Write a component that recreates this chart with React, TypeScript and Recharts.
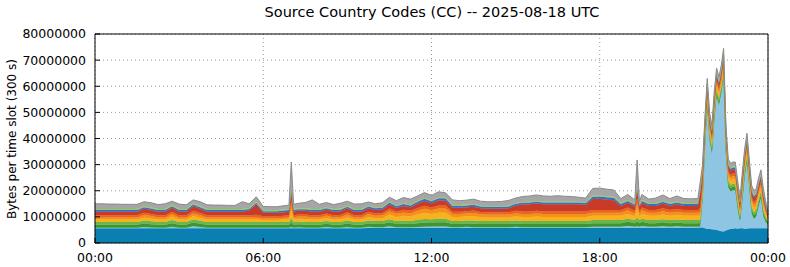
import React from 'react';
import { AreaChart, Area, XAxis, YAxis, CartesianGrid } from 'recharts';

const FONT = '"DejaVu Sans", Verdana, sans-serif';

// time of each slot in minutes after 00:00 UTC
const MINUTES = [
  0, 15, 30, 45, 60, 75, 90, 105, 120, 135, 150, 165,
  180, 195, 210, 225, 240, 255, 270, 285, 300, 315, 330, 345,
  360, 375, 390, 405, 415, 420, 425, 435, 450, 465, 480, 495,
  510, 525, 540, 555, 570, 585, 600, 615, 630, 645, 660, 675,
  690, 705, 720, 735, 750, 765, 780, 795, 810, 825, 840, 855,
  870, 885, 900, 915, 930, 945, 960, 975, 990, 1005, 1020, 1035,
  1050, 1065, 1080, 1095, 1110, 1125, 1140, 1155, 1160, 1165, 1170, 1185,
  1200, 1215, 1230, 1245, 1260, 1275, 1290, 1295, 1300, 1305, 1310, 1315,
  1320, 1325, 1330, 1335, 1340, 1345, 1350, 1355, 1360, 1365, 1370, 1375,
  1380, 1385, 1390, 1395, 1400, 1405, 1410, 1415, 1420, 1425, 1430, 1435,
  1440,
];

// values in millions of bytes per slot, bottom layer first
const CC_1 = [
  5.6, 5.6, 5.6, 5.6, 5.6, 5.6, 5.6, 5.6, 5.6, 5.6, 5.6, 5.6,
  5.6, 5.6, 5.6, 5.6, 5.6, 5.6, 5.6, 5.6, 5.6, 5.6, 5.6, 5.6,
  5.6, 5.6, 5.6, 5.6, 5.6, 5.6, 5.6, 5.6, 5.6, 5.6, 5.6, 5.6,
  5.6, 5.6, 5.6, 5.6, 5.6, 5.7, 5.7, 5.7, 5.7, 5.7, 5.7, 5.7,
  5.7, 5.7, 5.7, 5.7, 5.7, 5.7, 5.7, 5.7, 5.7, 5.7, 5.7, 5.7,
  5.7, 5.7, 5.7, 5.7, 5.7, 5.7, 5.7, 5.7, 5.7, 5.7, 5.7, 5.7,
  5.7, 5.8, 5.8, 5.8, 5.8, 5.8, 5.8, 5.8, 5.8, 5.8, 5.8, 5.8,
  5.8, 5.8, 5.8, 5.8, 5.8, 5.8, 5.8, 5.9, 5.9, 5.6, 5.4, 5.4,
  5.3, 5.2, 5.0, 4.8, 4.5, 4.4, 4.8, 5.2, 5.4, 5.5, 5.6, 5.5,
  5.6, 5.6, 5.5, 5.5, 5.6, 5.6, 5.6, 5.6, 5.6, 5.6, 5.6, 5.6,
  5.6,
];
const CC_2 = [
  0.2, 0.2, 0.2, 0.2, 0.2, 0.2, 0.2, 0.5, 0.3, 0.2, 0.2, 0.6,
  0.2, 0.2, 0.8, 0.5, 0.2, 0.2, 0.2, 0.2, 0.2, 0.2, 0.2, 0.2,
  0.2, 0.2, 0.2, 0.2, 0.2, 0.5, 0.2, 0.4, 0.2, 0.2, 0.2, 0.5,
  0.2, 0.2, 0.5, 0.2, 0.2, 0.5, 0.3, 0.3, 0.7, 0.3, 0.3, 0.3,
  0.4, 0.5, 0.6, 0.6, 0.6, 0.3, 0.3, 0.5, 0.3, 0.3, 0.3, 0.3,
  0.3, 0.3, 0.5, 0.3, 0.3, 0.3, 0.3, 0.3, 0.3, 0.3, 0.3, 0.3,
  0.3, 0.4, 0.4, 0.4, 0.4, 0.4, 0.7, 0.4, 0.6, 0.4, 0.7, 0.4,
  0.4, 0.6, 0.4, 0.6, 0.4, 0.4, 0.4, 0.4, 10.8, 31.6, 46.8, 33.8,
  28.9, 42.0, 51.2, 47.9, 52.7, 59.3, 29.4, 16.0, 14.3, 14.7, 14.6, 7.7,
  2.4, 10.6, 19.7, 25.7, 15.6, 5.6, 3.6, 4.6, 8.6, 11.6, 4.6, 2.4,
  1.4,
];
const CC_3 = [
  1.2, 1.2, 1.2, 1.2, 1.2, 1.2, 1.2, 1.4, 1.3, 1.2, 1.2, 1.4,
  1.2, 1.2, 1.4, 1.3, 1.2, 1.2, 1.2, 1.2, 1.2, 1.2, 1.2, 1.2,
  1.2, 1.2, 1.2, 1.2, 1.2, 1.8, 1.2, 1.2, 1.2, 1.2, 1.2, 1.3,
  1.2, 1.2, 1.4, 1.2, 1.2, 1.3, 1.3, 1.3, 1.5, 1.3, 1.4, 1.3,
  1.5, 1.6, 1.5, 1.6, 1.6, 1.3, 1.3, 1.3, 1.4, 1.3, 1.3, 1.3,
  1.3, 1.3, 1.3, 1.3, 1.3, 1.3, 1.3, 1.3, 1.3, 1.3, 1.3, 1.3,
  1.3, 1.4, 1.4, 1.4, 1.4, 1.4, 1.6, 1.4, 1.8, 1.4, 1.6, 1.4,
  1.4, 1.5, 1.4, 1.4, 1.4, 1.4, 1.4, 1.4, 1.4, 1.4, 1.4, 1.4,
  1.4, 1.4, 1.4, 1.4, 1.4, 1.4, 1.4, 1.4, 1.4, 1.4, 1.4, 1.4,
  1.2, 1.4, 1.4, 1.4, 1.4, 1.4, 1.4, 1.4, 1.4, 1.4, 1.4, 1.1,
  0.8,
];
const CC_4 = [
  1.0, 1.0, 1.0, 1.0, 1.0, 1.0, 1.0, 1.1, 1.1, 1.0, 1.0, 1.2,
  1.0, 1.0, 1.2, 1.1, 1.0, 1.0, 1.0, 1.0, 1.0, 1.0, 1.0, 1.0,
  1.0, 1.0, 1.0, 1.0, 1.0, 1.7, 1.0, 1.0, 1.0, 1.0, 1.0, 1.0,
  1.0, 1.0, 1.1, 1.0, 1.0, 1.1, 1.1, 1.1, 1.2, 1.1, 1.2, 1.1,
  1.3, 1.4, 1.3, 1.4, 1.4, 1.1, 1.1, 1.1, 1.2, 1.1, 1.1, 1.1,
  1.1, 1.1, 1.1, 1.1, 1.1, 1.1, 1.1, 1.1, 1.1, 1.1, 1.1, 1.1,
  1.1, 1.2, 1.2, 1.2, 1.2, 1.2, 1.2, 1.2, 1.6, 1.2, 1.2, 1.2,
  1.2, 1.2, 1.2, 1.2, 1.2, 1.2, 1.2, 1.2, 1.2, 1.2, 1.2, 1.2,
  1.2, 1.2, 1.2, 1.2, 1.2, 1.2, 1.2, 1.2, 1.2, 1.2, 1.2, 1.2,
  1.0, 1.2, 1.2, 1.2, 1.2, 1.2, 1.2, 1.2, 1.2, 1.2, 1.2, 0.9,
  0.6,
];
const CC_5 = [
  1.0, 1.0, 1.0, 1.0, 1.0, 1.0, 1.0, 1.2, 1.1, 1.0, 1.0, 1.3,
  1.0, 1.0, 1.3, 1.2, 1.0, 1.0, 1.0, 1.0, 1.0, 1.0, 1.0, 1.0,
  0.8, 0.8, 0.8, 1.0, 1.0, 3.0, 1.0, 1.1, 1.2, 1.0, 1.0, 1.2,
  1.0, 1.1, 1.3, 1.0, 1.0, 1.4, 1.1, 1.2, 1.8, 1.6, 1.8, 1.7,
  2.0, 2.3, 2.0, 2.3, 2.3, 1.6, 1.6, 1.6, 1.7, 1.5, 1.4, 1.4,
  1.4, 1.4, 1.6, 1.6, 1.6, 1.7, 1.6, 1.6, 1.6, 1.6, 1.6, 1.6,
  1.6, 1.6, 1.6, 1.6, 1.6, 1.6, 1.8, 1.4, 3.2, 1.4, 1.8, 1.6,
  1.6, 1.8, 1.6, 1.8, 1.6, 1.6, 1.6, 1.6, 1.6, 1.6, 1.6, 1.6,
  1.6, 1.6, 1.6, 1.6, 1.6, 1.6, 1.6, 1.6, 1.6, 1.6, 1.6, 1.6,
  1.3, 1.6, 1.6, 1.6, 1.6, 1.6, 1.6, 1.6, 1.6, 1.6, 1.6, 1.1,
  0.7,
];
const CC_6 = [
  0.8, 0.8, 0.8, 0.8, 0.8, 0.8, 0.8, 0.9, 0.9, 0.8, 0.8, 1.0,
  0.8, 0.8, 1.0, 0.9, 0.8, 0.8, 0.8, 0.8, 0.8, 0.8, 0.8, 0.8,
  0.7, 0.7, 0.7, 0.7, 0.8, 2.2, 0.8, 0.8, 0.9, 0.8, 0.8, 0.9,
  0.8, 0.8, 1.0, 0.8, 0.8, 1.1, 0.9, 1.0, 1.3, 1.2, 1.3, 1.2,
  1.4, 1.6, 1.4, 1.6, 1.6, 1.1, 1.1, 1.1, 1.2, 1.1, 1.1, 1.1,
  1.1, 1.1, 1.1, 1.1, 1.1, 1.2, 1.1, 1.1, 1.1, 1.1, 1.1, 1.1,
  1.1, 1.2, 1.2, 1.2, 1.2, 1.2, 1.4, 1.1, 2.4, 1.1, 1.4, 1.2,
  1.2, 1.3, 1.2, 1.2, 1.2, 1.2, 1.2, 1.4, 1.2, 1.2, 1.2, 1.2,
  1.2, 1.2, 1.2, 1.2, 1.2, 1.2, 1.2, 1.2, 1.2, 1.2, 1.2, 1.2,
  1.0, 1.2, 1.2, 1.2, 1.2, 1.2, 1.2, 1.2, 1.2, 1.2, 1.2, 0.9,
  0.5,
];
const CC_7 = [
  0.8, 0.8, 0.8, 0.8, 0.8, 0.8, 0.8, 0.9, 0.8, 0.8, 0.8, 0.9,
  0.8, 0.8, 1.0, 0.9, 0.8, 0.8, 0.8, 0.8, 0.8, 0.8, 0.8, 1.0,
  0.7, 0.7, 0.7, 0.7, 0.8, 1.7, 0.8, 0.8, 0.8, 0.8, 0.8, 0.8,
  0.8, 0.8, 0.9, 0.8, 0.8, 0.9, 0.9, 0.9, 1.0, 0.9, 1.0, 1.0,
  1.1, 1.2, 1.1, 1.2, 1.2, 0.9, 0.9, 0.9, 0.9, 0.9, 0.9, 0.9,
  0.9, 0.9, 1.0, 1.0, 1.0, 1.0, 1.0, 1.0, 1.0, 1.0, 1.0, 1.0,
  1.0, 1.0, 1.0, 1.0, 1.0, 1.0, 1.1, 1.0, 1.8, 0.9, 1.1, 1.0,
  1.0, 1.1, 1.0, 1.0, 1.0, 1.0, 1.0, 1.5, 1.3, 1.0, 1.0, 1.0,
  1.0, 1.0, 1.0, 1.0, 1.0, 1.0, 1.0, 1.0, 1.0, 1.0, 1.0, 1.0,
  0.8, 1.0, 1.0, 1.0, 1.0, 1.0, 1.0, 1.0, 1.0, 1.0, 1.0, 0.7,
  0.4,
];
const CC_8 = [
  1.4, 1.4, 1.4, 1.4, 1.4, 1.4, 1.4, 1.5, 1.5, 1.4, 1.4, 1.5,
  1.4, 1.4, 1.8, 1.6, 1.4, 1.4, 1.4, 1.4, 1.4, 1.4, 1.8, 4.0,
  1.4, 1.4, 1.4, 1.4, 1.4, 3.2, 1.4, 1.4, 1.4, 1.4, 1.4, 1.4,
  1.4, 1.4, 1.5, 1.4, 1.4, 1.3, 1.3, 1.3, 1.5, 1.3, 1.5, 1.4,
  1.6, 1.8, 1.6, 1.9, 1.9, 1.5, 1.5, 1.5, 1.5, 1.4, 1.3, 1.3,
  1.3, 1.5, 2.0, 2.6, 2.7, 2.8, 2.7, 2.7, 2.7, 2.7, 2.7, 2.7,
  2.5, 4.2, 4.3, 4.0, 3.8, 1.6, 1.8, 1.6, 3.5, 1.5, 1.8, 1.6,
  1.6, 1.8, 1.6, 1.8, 1.6, 1.6, 1.6, 6.0, 3.5, 1.6, 1.6, 1.6,
  1.6, 1.6, 1.6, 1.6, 1.6, 1.6, 1.6, 1.6, 1.6, 1.6, 1.6, 1.6,
  1.4, 1.6, 1.6, 1.6, 1.6, 1.6, 1.6, 1.6, 1.6, 1.6, 1.6, 1.2,
  0.8,
];
const CC_9 = [
  0.6, 0.6, 0.6, 0.6, 0.6, 0.6, 0.6, 0.6, 0.6, 0.6, 0.6, 0.6,
  0.6, 0.6, 0.6, 0.6, 0.6, 0.6, 0.6, 0.6, 0.6, 0.6, 0.6, 0.6,
  0.6, 0.6, 0.6, 0.6, 0.6, 0.4, 0.6, 0.6, 0.6, 0.6, 0.6, 0.6,
  0.6, 0.6, 0.6, 0.6, 0.6, 0.7, 0.7, 0.7, 0.8, 0.7, 0.7, 0.7,
  0.8, 0.8, 0.8, 0.8, 0.8, 0.7, 0.7, 0.7, 0.7, 0.7, 0.7, 0.7,
  0.7, 0.7, 0.7, 0.7, 0.7, 0.7, 0.7, 0.7, 0.7, 0.7, 0.7, 0.7,
  0.7, 0.9, 0.9, 0.9, 0.9, 0.7, 0.7, 0.7, 0.6, 0.7, 0.7, 0.7,
  0.7, 0.7, 0.7, 0.7, 0.7, 0.7, 0.7, 0.7, 0.7, 0.7, 0.7, 0.7,
  0.7, 0.7, 0.7, 0.7, 0.7, 0.7, 0.7, 0.7, 0.7, 0.7, 0.7, 0.7,
  0.6, 0.7, 0.7, 0.7, 0.7, 0.7, 0.7, 0.7, 0.7, 0.7, 0.7, 0.6,
  0.3,
];
const CC_10 = [
  0.4, 0.4, 0.4, 0.4, 0.4, 0.4, 0.4, 0.4, 0.4, 0.4, 0.4, 0.4,
  0.4, 0.4, 0.4, 0.4, 0.4, 0.4, 0.4, 0.4, 0.4, 0.4, 0.4, 0.4,
  0.4, 0.4, 0.4, 0.4, 0.4, 0.3, 0.4, 0.4, 0.4, 0.4, 0.4, 0.4,
  0.4, 0.4, 0.4, 0.4, 0.4, 0.3, 0.3, 0.3, 0.3, 0.3, 0.3, 0.3,
  0.3, 0.3, 0.3, 0.3, 0.3, 0.3, 0.3, 0.3, 0.3, 0.3, 0.3, 0.3,
  0.3, 0.3, 0.3, 0.3, 0.3, 0.3, 0.3, 0.3, 0.3, 0.3, 0.3, 0.3,
  0.3, 0.4, 0.4, 0.4, 0.4, 0.4, 0.4, 0.4, 0.4, 0.4, 0.4, 0.4,
  0.4, 0.4, 0.4, 0.4, 0.4, 0.4, 0.4, 0.4, 0.4, 0.4, 0.4, 0.4,
  0.4, 0.4, 0.4, 0.4, 0.4, 0.4, 0.4, 0.4, 0.4, 0.4, 0.4, 0.4,
  0.4, 0.4, 0.4, 0.4, 0.4, 0.4, 0.4, 0.4, 0.4, 0.4, 0.4, 0.3,
  0.2,
];
const CC_11 = [
  2.0, 2.0, 1.9, 1.9, 1.8, 1.8, 1.8, 1.7, 1.8, 1.7, 2.0, 1.5,
  1.9, 1.6, 1.4, 1.7, 1.6, 1.5, 1.5, 1.4, 1.4, 2.8, 1.6, 1.9,
  1.4, 1.3, 1.3, 1.5, 1.5, 10.6, 1.8, 1.9, 2.2, 3.5, 1.8, 1.8,
  1.7, 2.1, 1.7, 1.9, 2.0, 1.4, 1.4, 1.6, 1.7, 1.8, 2.2, 2.1,
  1.9, 2.1, 1.9, 2.2, 1.8, 2.0, 1.7, 1.7, 1.9, 1.7, 1.7, 1.7,
  1.8, 2.0, 1.9, 2.1, 2.2, 2.3, 2.2, 2.1, 2.3, 2.1, 2.0, 1.7,
  1.6, 2.8, 2.8, 2.7, 2.6, 1.7, 2.1, 1.5, 10.1, 1.2, 2.1, 1.5,
  1.9, 2.2, 1.7, 2.1, 1.7, 1.6, 1.7, 3.0, 2.0, 1.7, 1.7, 1.7,
  1.7, 1.7, 1.7, 1.7, 1.7, 1.7, 1.7, 1.7, 1.7, 1.7, 1.7, 1.7,
  1.3, 1.7, 1.7, 1.7, 1.7, 1.7, 1.7, 1.7, 1.7, 1.7, 1.7, 1.2,
  0.7,
];

const X_TICKS = [0, 360, 720, 1080, 1440];
const X_TICK_LABELS = ['00:00', '06:00', '12:00', '18:00', '00:00'];
const Y_TICKS = [0, 10000000, 20000000, 30000000, 40000000, 50000000, 60000000, 70000000, 80000000];

const LAYERS = [
  { key: 'cc1', values: CC_1, color: '#0a7fb1' },
  { key: 'cc2', values: CC_2, color: '#8ec5e3' },
  { key: 'cc3', values: CC_3, color: '#3d962f' },
  { key: 'cc4', values: CC_4, color: '#68b64d' },
  { key: 'cc5', values: CC_5, color: '#f8b21d' },
  { key: 'cc6', values: CC_6, color: '#f4901b' },
  { key: 'cc7', values: CC_7, color: '#e8661a' },
  { key: 'cc8', values: CC_8, color: '#c93a28' },
  { key: 'cc9', values: CC_9, color: '#3a6fc2' },
  { key: 'cc10', values: CC_10, color: '#8fd14f' },
  { key: 'cc11', values: CC_11, color: '#a6a6a6' },
];

const data = MINUTES.map((t, i) => {
  const row: Record<string, number> = { t };
  LAYERS.forEach((l) => {
    row[l.key] = l.values[i] * 1000000;
  });
  return row;
});

const tickStyle = { fill: '#000', fontSize: 12.5, fontFamily: FONT };

export default function App() {
  return (
    <div style={{ position: 'absolute', left: 0, top: 0, width: 790, height: 267, background: '#fff' }}>
      <AreaChart width={790} height={267} data={data} margin={{ top: 33, right: 21, bottom: 0, left: 0 }}>
        <CartesianGrid stroke="#9a9a9a" strokeDasharray="1 3" />
        <XAxis
          dataKey="t"
          type="number"
          domain={[0, 1440]}
          ticks={X_TICKS}
          interval={0}
          tickFormatter={(v: number) => X_TICK_LABELS[X_TICKS.indexOf(v)]}
          height={24}
          tickSize={-5}
          tickMargin={15}
          tick={tickStyle}
          axisLine={{ stroke: '#000' }}
          tickLine={{ stroke: '#000' }}
        />
        <XAxis
          xAxisId="top"
          orientation="top"
          dataKey="t"
          type="number"
          domain={[0, 1440]}
          ticks={X_TICKS}
          interval={0}
          height={1}
          tickSize={-5}
          tick={false}
          axisLine={{ stroke: '#000' }}
          tickLine={{ stroke: '#000' }}
        />
        <YAxis
          type="number"
          domain={[0, 80000000]}
          ticks={Y_TICKS}
          interval={0}
          width={95}
          tickSize={-5}
          tickMargin={14}
          tick={tickStyle}
          axisLine={{ stroke: '#000' }}
          tickLine={{ stroke: '#000' }}
        />
        <YAxis
          yAxisId="right"
          orientation="right"
          type="number"
          domain={[0, 80000000]}
          ticks={Y_TICKS}
          interval={0}
          width={1}
          tickSize={-5}
          tick={false}
          axisLine={{ stroke: '#000' }}
          tickLine={{ stroke: '#000' }}
        />
        {LAYERS.map((l, i) => (
          <Area
            key={l.key}
            dataKey={l.key}
            type="linear"
            stackId="cc"
            fill={l.color}
            fillOpacity={1}
            stroke={i === LAYERS.length - 1 ? '#8a8a8a' : l.color}
            strokeWidth={i === LAYERS.length - 1 ? 1 : 0.5}
            dot={false}
            activeDot={false}
            isAnimationActive={false}
          />
        ))}
      </AreaChart>
      <svg width={790} height={267} style={{ position: 'absolute', left: 0, top: 0, pointerEvents: 'none' }}>
        <text x={432} y={17} textAnchor="middle" fontFamily={FONT} fontSize={14.5} fill="#000">
          Source Country Codes (CC) -- 2025-08-18 UTC
        </text>
        <text
          x={12}
          y={139}
          transform="rotate(-90 12 139)"
          textAnchor="middle"
          dominantBaseline="central"
          fontFamily={FONT}
          fontSize={12}
          fill="#000"
        >
          Bytes per time slot (300 s)
        </text>
      </svg>
    </div>
  );
}
